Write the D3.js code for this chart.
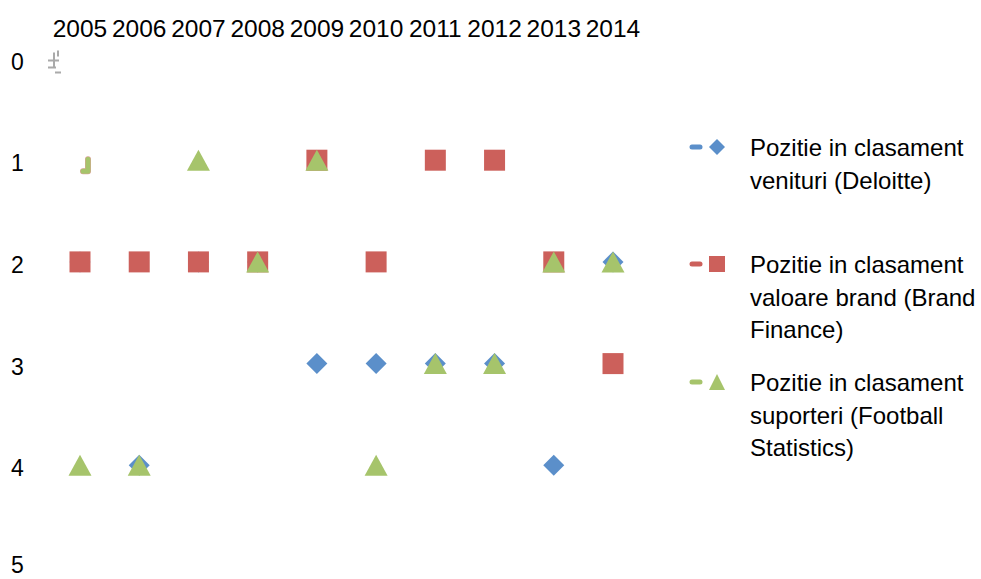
<!DOCTYPE html>
<html>
<head>
<meta charset="utf-8">
<script src="https://cdn.jsdelivr.net/npm/d3@7"></script>
<style>
  body { margin: 0; background: #fff; }
  text { font-family: 'Liberation Sans', Arial, sans-serif; fill: #000; }
</style>
</head>
<body>
<div class="Chart"></div>
<script>
const years = ['2005', '2006', '2007', '2008', '2009', '2010', '2011', '2012', '2013', '2014'];
const yTicks = [0, 1, 2, 3, 4, 5];

// Pozitie in clasament (rank per year)
const deloitte = [2, 4, 2, 2, 3, 3, 3, 3, 4, 2];
const brandFinance = [2, 2, 2, 2, 1, 2, 1, 1, 2, 3];
const footballStats = [4, 4, 1, 2, 1, 4, 3, 3, 2, 2];

const seriesNames = [
  ['Pozitie in clasament', 'venituri (Deloitte)'],
  ['Pozitie in clasament', 'valoare brand (Brand', 'Finance)'],
  ['Pozitie in clasament', 'suporteri (Football', 'Statistics)']
];

const colors = ['#5b8fca', '#cc605b', '#a6c46b'];

const width = 981;
const height = 579;

const svg = d3.select('.Chart').append('svg')
  .attr('width', width)
  .attr('height', height);

const x = d3.scalePoint()
  .domain(years)
  .range([80, 613]);

const y = d3.scaleLinear()
  .domain([0, 5])
  .range([58.5, 567]);

// Year labels along the top
svg.append('g')
  .attr('class', 'x-labels')
  .selectAll('text')
  .data(years)
  .enter().append('text')
  .attr('x', d => x(d))
  .attr('y', 37)
  .attr('text-anchor', 'middle')
  .attr('font-size', 24.5)
  .text(d => d);

// Rank labels down the left side
svg.append('g')
  .attr('class', 'y-labels')
  .selectAll('text')
  .data(yTicks)
  .enter().append('text')
  .attr('x', 11)
  .attr('y', d => Math.min(y(d) + 11, 573))
  .attr('font-size', 23)
  .text(d => d);

// Little leftover tick glyph near 0
const gx = x(years[0]) - 32;
svg.append('path')
  .attr('d', `M${gx},${y(0) + 2} h11 M${gx + 6},${y(0) - 6} v15 M${gx + 10},${y(0) - 8} v6 M${gx},${y(0) + 9} h8 M${gx + 7},${y(0) + 14} h6`)
  .attr('stroke', '#aaa')
  .attr('stroke-width', 2)
  .attr('fill', 'none');

const sq = 21;
const symbols = [
  d => `M0,${-sq / 2} L${sq / 2},0 L0,${sq / 2} L${-sq / 2},0 Z`,
  d => `M${-sq / 2},${-sq / 2} h${sq} v${sq} h${-sq} Z`,
  d => `M0,${-sq / 2} L${sq / 2 + 1},${sq / 2} L${-sq / 2 - 1},${sq / 2} Z`
];

const allSeries = [deloitte, brandFinance, footballStats];

allSeries.forEach((values, i) => {
  svg.append('g')
    .attr('class', 'series-' + i)
    .selectAll('path')
    .data(values)
    .enter().append('path')
    .attr('transform', (d, j) => `translate(${x(years[j])},${y(d)})`)
    .attr('d', symbols[i])
    .attr('fill', colors[i]);
});

// Stray green mark next to 2005 at rank 1
const strayPath = `M${x(years[0]) + 8},${y(1) - 1} v12 h-5`;
svg.append('path')
  .attr('d', strayPath)
  .attr('stroke', colors[1])
  .attr('stroke-width', 6)
  .attr('stroke-linecap', 'round')
  .attr('stroke-linejoin', 'round')
  .attr('fill', 'none')
  .attr('opacity', 0.6);
svg.append('path')
  .attr('d', strayPath)
  .attr('stroke', colors[2])
  .attr('stroke-width', 5)
  .attr('stroke-linecap', 'round')
  .attr('stroke-linejoin', 'round')
  .attr('fill', 'none');

// Legend
const legendY = [147, 264, 382];
const legend = svg.append('g').attr('class', 'legend');

seriesNames.forEach((lines, i) => {
  const g = legend.append('g')
    .attr('transform', `translate(0,${legendY[i]})`);

  g.append('line')
    .attr('x1', 692)
    .attr('x2', 700)
    .attr('stroke', colors[i])
    .attr('stroke-width', 5)
    .attr('stroke-linecap', 'round');

  const ls = 16;
  let mark;
  if (i === 0) {
    mark = `M${717 - ls / 2},0 L717,${-ls / 2} L${717 + ls / 2},0 L717,${ls / 2} Z`;
  } else if (i === 1) {
    mark = `M${717 - ls / 2},${-ls / 2} h${ls} v${ls} h${-ls} Z`;
  } else {
    mark = `M717,${-ls / 2} L${717 + ls / 2},${ls / 2} L${717 - ls / 2},${ls / 2} Z`;
  }
  g.append('path')
    .attr('d', mark)
    .attr('fill', colors[i]);

  g.selectAll('text')
    .data(lines)
    .enter().append('text')
    .attr('x', 750)
    .attr('y', (d, j) => 9 + j * 32.5)
    .attr('font-size', 24)
    .text(d => d);
});
</script>
</body>
</html>
